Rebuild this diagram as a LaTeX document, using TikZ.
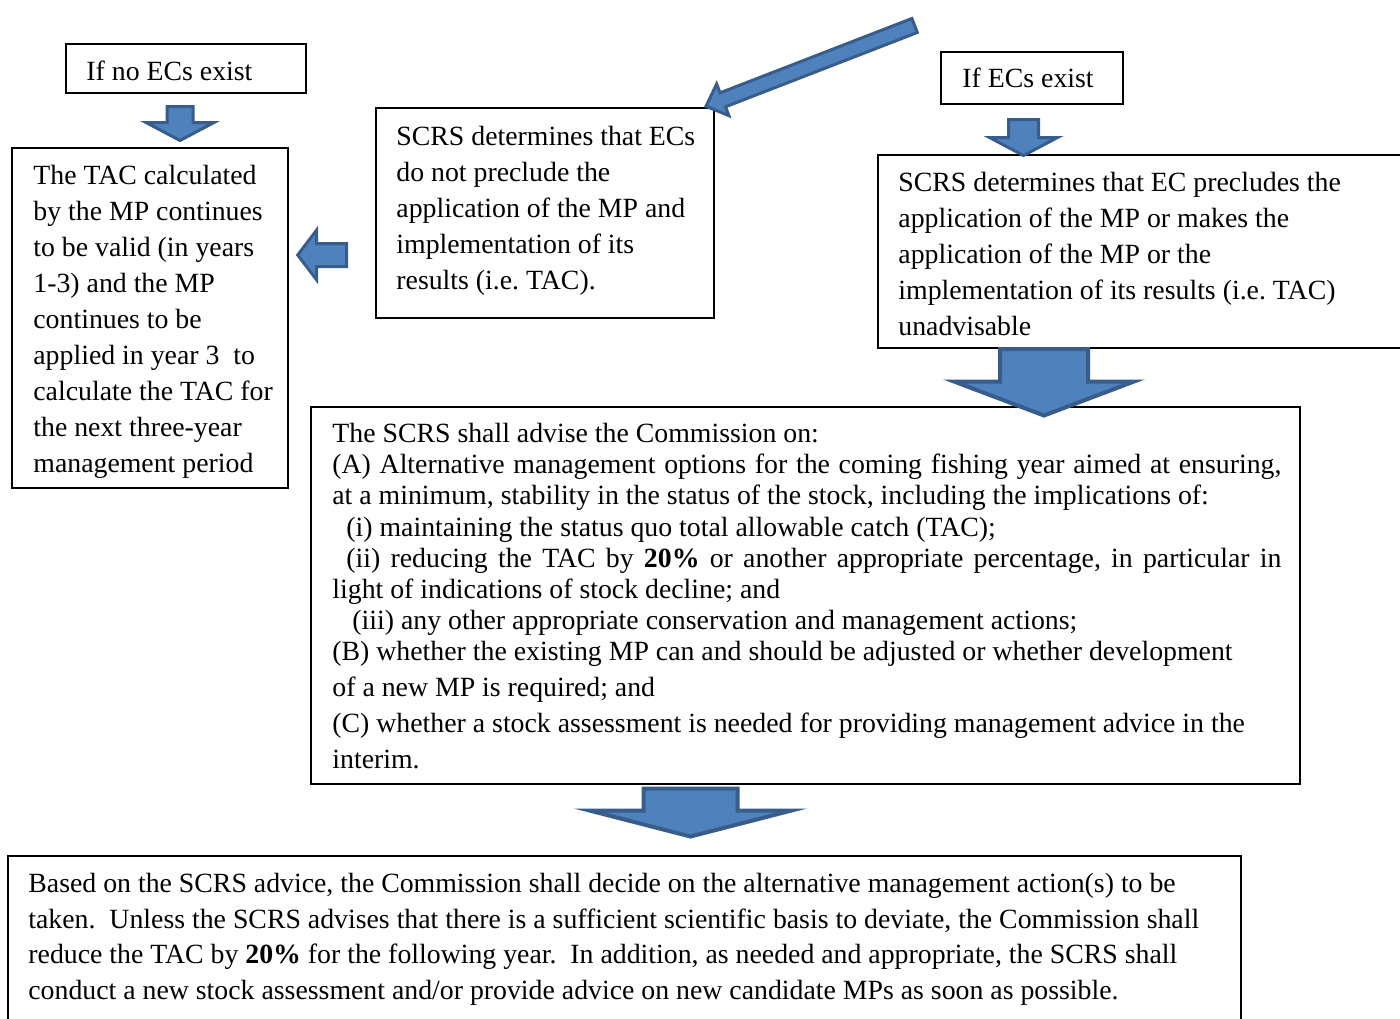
\documentclass[tikz,border=0pt]{standalone}
\usepackage{fontspec}
\setmainfont{Liberation Serif}
\usetikzlibrary{calc,fit}
\definecolor{arrfill}{HTML}{4F81BD}
\definecolor{arrline}{HTML}{385D8A}
\frenchspacing
\tikzset{
  box/.style={draw=black, line width=0.75pt, inner sep=0pt, fill=none},
  txt/.style={inner sep=0pt, anchor=north west, align=left, font=\fontsize{13.9}{18}\selectfont},
  bigtxt/.style={inner sep=0pt, anchor=north west, align=left, font=\fontsize{13.9}{15.6}\selectfont},
  bottxt/.style={inner sep=0pt, anchor=north west, align=left, font=\fontsize{13.9}{17.9}\selectfont},
  blockarrow/.style={fill=arrfill, draw=arrline, line join=miter}
}
% #1 line width, #2 tail, #3 tip, #4 half shaft, #5 half head, #6 head length
\newcommand\blockarr[6][1.5pt]{%
  \path ($(#3)!#6!(#2)$) coordinate (hb);
  \draw[blockarrow, line width=#1] ($(#2)!#4!90:(#3)$) -- ($(hb)!#4!90:(#3)$) -- ($(hb)!#5!90:(#3)$) -- (#3) -- ($(hb)!#5!-90:(#3)$) -- ($(hb)!#4!-90:(#3)$) -- ($(#2)!#4!-90:(#3)$) -- cycle;}
\begin{document}
\frenchspacing
\begin{tikzpicture}[x=0.5pt, y=-0.5pt]
\useasboundingbox (0,0) rectangle (1400,1018);
\clip (0,0) rectangle (1400,1018);
\fill[white] (0,0) rectangle (1400,1018);

% boxes
\node[box, fit={(66,44) (306,93)}] (noec) {};
\node[box, fit={(12,148) (288,488)}] (left) {};
\node[box, fit={(376,108) (714,318)}] (mid) {};
\node[box, fit={(941,52) (1123,104)}] (ec) {};
\node[box, fit={(878,155) (1412,348)}] (right) {};
\node[box, fit={(311,407) (1300,784)}] (big) {};
\node[box, fit={(8,856) (1241,1030)}] (bottom) {};

% texts
\node[txt] (tnoec) at (86,54.8) {\strut If no ECs exist};
\node[txt] (tec) at (962,61.8) {\strut If ECs exist};
\node[txt] (tleft) at (33,158.8) {\strut The TAC calculated\\ by the MP continues\\ to be valid (in years\\ 1-3) and the MP\\ continues to be\\ applied in year 3~ to\\ calculate the TAC for\\ the next three-year\\ management period};
\node[txt] (tmid) at (396,119.8) {\strut SCRS determines that ECs\\ do not preclude the\\ application of the MP and\\ implementation of its\\ results (i.e. TAC).};
\node[txt] (tright) at (898,165.8) {\strut SCRS determines that EC precludes the\\ application of the MP or makes the\\ application of the MP or the\\ implementation of its results (i.e. TAC)\\ unadvisable};
\node[bigtxt] (tbig) at (332,420.3) {\strut The SCRS shall advise the Commission on:\\
\makebox[474.5pt][s]{(A) Alternative management options for the coming fishing year aimed at ensuring,}\\
at a minimum, stability in the status of the stock, including the implications of:\\
\hspace*{7pt}(i) maintaining the status quo total allowable catch (TAC);\\
\hspace*{7pt}\makebox[467.5pt][s]{(ii) reducing the TAC by \textbf{20\%} or another appropriate percentage, in particular in}\\
light of indications of stock decline; and\\
\hspace*{10pt}(iii) any other appropriate conservation and management actions;\\
(B) whether the existing MP can and should be adjusted or whether development\\[2.4pt]
of a new MP is required; and\\[2.4pt]
(C) whether a stock assessment is needed for providing management advice in the\\[2.4pt]
interim.};
\node[bottxt] (tbottom) at (28,866.9) {\strut Based on the SCRS advice, the Commission shall decide on the alternative management action(s) to be\\
taken.~ Unless the SCRS advises that there is a sufficient scientific basis to deviate, the Commission shall\\
reduce the TAC by \textbf{20\%} for the following year.~ In addition, as needed and appropriate, the SCRS shall\\
conduct a new stock assessment and/or provide advice on new candidate MPs as soon as possible.};

% arrow end points
\coordinate (a1s) at (180,106.5);   \coordinate (a1e) at (180,140.5);
\coordinate (a2s) at (1023.5,119.5); \coordinate (a2e) at (1023.5,155.5);
\coordinate (a3s) at (1044,349);    \coordinate (a3e) at (1044,415.5);
\coordinate (a4s) at (346.5,255);   \coordinate (a4e) at (297.7,255);
\coordinate (a5s) at (690.5,788.5); \coordinate (a5e) at (690.5,836.5);
\coordinate (a6s) at (914.6,25.5);  \coordinate (a6e) at (706,106.3);

\blockarr{a1s}{a1e}{6.5pt}{17pt}{9pt}
\blockarr{a2s}{a2e}{7.5pt}{17pt}{9pt}
\blockarr[2pt]{a3s}{a3e}{22pt}{45pt}{17pt}
\blockarr{a4s}{a4e}{5.75pt}{12.5pt}{9.5pt}
\blockarr[2pt]{a5s}{a5e}{23.5pt}{50.5pt}{13pt}
\blockarr{a6s}{a6e}{3.75pt}{8.5pt}{9pt}
\end{tikzpicture}
\end{document}
